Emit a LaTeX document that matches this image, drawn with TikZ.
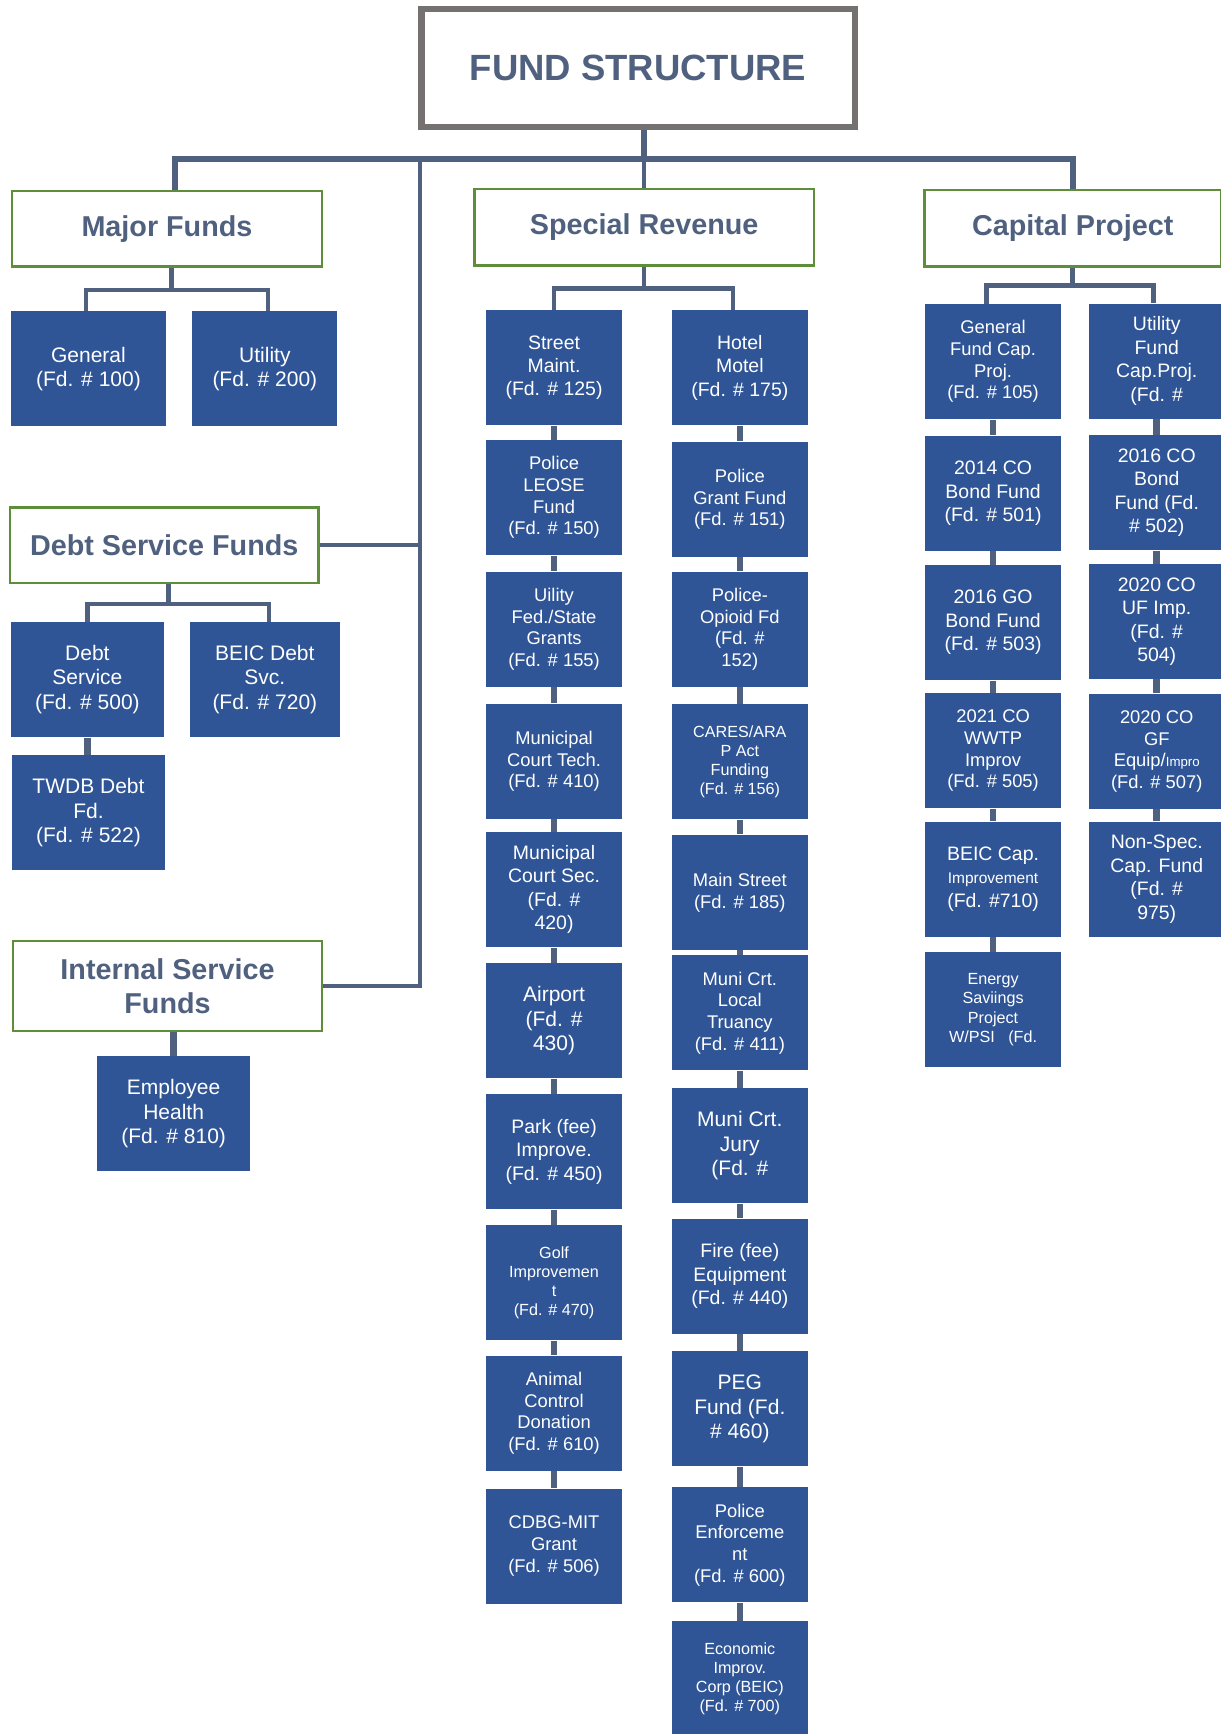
\documentclass[tikz,border=0pt]{standalone}
\usepackage{fontspec}
\setmainfont{Liberation Sans}
\usepackage{xcolor}
\usetikzlibrary{calc}
\definecolor{fundblue}{HTML}{2F5597}
\definecolor{slate}{HTML}{506180}
\definecolor{grpgreen}{HTML}{5E8E3A}
\definecolor{titlegray}{HTML}{767171}
\newcommand{\txtL}{\fontsize{9.5}{11}\selectfont}
\newcommand{\txtM}{\fontsize{8.8}{10.6}\selectfont}
\newcommand{\txtS}{\fontsize{8.3}{9.8}\selectfont}
\newcommand{\txtT}{\fontsize{7.3}{8.7}\selectfont}

\begin{document}
\begin{tikzpicture}[x=0.5pt,y=-0.5pt,
 fundbox/.style={fill=fundblue,text=white,inner sep=0,minimum width=61.5pt,minimum height=52pt,align=center},
 grpbox/.style={draw=grpgreen,line width=1pt,fill=white,text=slate,inner sep=0,align=center,font=\fontsize{13}{15.5}\selectfont\bfseries},
 conn/.style={draw=slate,line width=2pt},
 stack/.style={draw=slate,line width=3pt}]
\useasboundingbox (0,0) rectangle (1104,1568);

\node[draw=titlegray,line width=3pt,minimum width=196pt,minimum height=53.5pt,text=slate,font=\fontsize{16.5}{19}\selectfont\bfseries] (title) at (577,61.5) {FUND STRUCTURE};

\node[grpbox,minimum width=140pt,minimum height=34pt] (major) at (151,207) {Major Funds};
\node[grpbox,minimum width=153.5pt,minimum height=34.5pt] (spec) at (582.5,205.5) {Special Revenue};
\node[grpbox,minimum width=134pt,minimum height=34.5pt] (cap) at (970,206.5) {Capital Project};
\node[grpbox,minimum width=139.5pt,minimum height=34pt] (debt) at (148.5,493) {Debt Service Funds};
\node[grpbox,minimum width=139.5pt,minimum height=40.5pt] (isf) at (151.5,891.5) {Internal Service\\Funds};

\draw[conn,line width=2.6pt] (title.south -| spec.north) -- ++(0,26) coordinate (topbar);
\draw[conn,line width=2.6pt] ([xshift=3.5pt]major.north) |- (topbar) -| (cap.north);
\draw[conn] (topbar) -- (spec.north);
\coordinate (spine) at (380,143);
\draw[conn,line width=1.6pt] (spine) |- (isf.east);
\draw[conn,line width=1.6pt] (debt.east) -- (debt.east -| spine);

% major funds
\node[fundbox,font=\txtL,minimum width=70pt] (gen) at (80,333.5) {General\\(Fd. \# 100)};
\node[fundbox,font=\txtL,minimum width=65.5pt] (util) at (239.5,333.5) {Utility\\(Fd. \# 200)};
\draw[conn] ([xshift=2pt]major.south) -- ++(0,20) coordinate (majbar);
\draw[conn] ([xshift=-1pt]gen.north) |- (majbar) -| ([xshift=1.5pt]util.north);

% debt service
\node[fundbox,font=\txtL,minimum width=69pt] (dsv) at (79,614.5) {Debt\\Service\\(Fd. \# 500)};
\node[fundbox,font=\txtL,minimum width=67.5pt] (beicd) at (239.5,614.5) {BEIC Debt\\Svc.\\(Fd. \# 720)};
\node[fundbox,font=\txtL,minimum width=69pt] (twdb) at (80,735) {TWDB Debt\\Fd.\\(Fd. \# 522)};
\draw[conn] ([xshift=2pt]debt.south) -- ++(0,18) coordinate (debtbar);
\draw[conn] (dsv.north) |- (debtbar) -| ([xshift=2pt]beicd.north);
\draw[stack] (dsv.south) -- (dsv.south |- twdb.north);

% internal service
\node[fundbox,font=\txtL,minimum width=69pt] (emp) at (157,1007) {Employee\\Health\\(Fd. \# 810)};
\draw[stack] (emp.north) -- (emp.north |- isf.south);

% special revenue
\foreach \y/\f/\t [count=\i] in {332.5/\txtM/{Street\\Maint.\\(Fd. \# 125)},
 450/\txtS/{Police\\LEOSE\\Fund\\(Fd. \# 150)},
 569/\txtS/{Uility\\Fed./State\\Grants\\(Fd. \# 155)},
 688.5/\txtS/{Municipal\\Court Tech.\\(Fd. \# 410)},
 804.5/\txtM/{Municipal\\Court Sec.\\(Fd. \#\\420)},
 923/\txtL/{Airport\\(Fd. \#\\430)},
 1041.5/\txtM/{Park (fee)\\Improve.\\(Fd. \# 450)},
 1160/\txtT/{Golf\\Improvemen\\t\\(Fd. \# 470)},
 1278/\txtS/{Animal\\Control\\Donation\\(Fd. \# 610)},
 1398/\txtS/{CDBG-MIT\\Grant\\(Fd. \# 506)}}
 \node[fundbox,font=\f] (sl\i) at (501,\y) {\t};
\foreach \y/\f/\t [count=\i] in {332.5/\txtM/{Hotel\\Motel\\(Fd. \# 175)},
 451.5/\txtS/{Police\\Grant Fund\\(Fd. \# 151)},
 569/\txtS/{Police-\\Opioid Fd\\(Fd. \#\\152)},
 689/\txtT/{CARES/ARA\\P Act\\Funding\\(Fd. \# 156)},
 807/\txtS/{Main Street\\(Fd. \# 185)},
 916/\txtS/{Muni Crt.\\Local\\Truancy\\(Fd. \# 411)},
 1036/\txtL/{Muni Crt.\\Jury\\(Fd. \#},
 1154/\txtM/{Fire (fee)\\Equipment\\(Fd. \# 440)},
 1274/\txtL/{PEG\\Fund (Fd.\\\# 460)},
 1397/\txtS/{Police\\Enforceme\\nt\\(Fd. \# 600)},
 1518/\txtT/{Economic\\Improv.\\Corp (BEIC)\\(Fd. \# 700)}}
 \node[fundbox,font=\f] (sr\i) at (669,\y) {\t};
\draw[conn] (spec.south) -- ++(0,20) coordinate (specbar);
\draw[conn] (sl1.north) |- (specbar) -| ([xshift=-3pt]sr1.north);
\foreach \i [evaluate=\i as \j using int(\i+1)] in {1,...,9}
 \draw[stack] (sl\i.south) -- (sl\i.south |- sl\j.north);
\foreach \i [evaluate=\i as \j using int(\i+1)] in {1,...,10}
 \draw[stack] (sr\i.south) -- (sr\i.south |- sr\j.north);

% capital project
\foreach \y/\f/\t [count=\i] in {327/\txtS/{General\\Fund Cap.\\Proj.\\(Fd. \# 105)},
 446/\txtM/{2014 CO\\Bond Fund\\(Fd. \# 501)},
 563/\txtM/{2016 GO\\Bond Fund\\(Fd. \# 503)},
 679/\txtS/{2021 CO\\WWTP\\Improv\\(Fd. \# 505)},
 795/\txtM/{BEIC Cap.\\{\fontsize{7}{8}\selectfont Improvement}\\(Fd. \#710)},
 913/\txtT/{Energy\\Saviings\\Project\\W/PSI\ \ \ (Fd.}}
 \node[fundbox,font=\f] (cl\i) at (898,\y) {\t};
\foreach \y/\f/\t [count=\i] in {326.5/\txtM/{Utility\\Fund\\Cap.Proj.\\(Fd. \#},
 445.5/\txtM/{2016 CO\\Bond\\Fund (Fd.\\\# 502)},
 562/\txtM/{2020 CO\\UF Imp.\\(Fd. \#\\504)},
 679.5/\txtS/{2020 CO\\GF\\Equip/{\fontsize{6}{7}\selectfont Impro}\\(Fd. \# 507)},
 795/\txtM/{Non-Spec.\\Cap. Fund\\(Fd. \#\\975)}}
 \node[fundbox,font=\f] (cr\i) at (1046,\y) {\t};
\draw[conn] (cap.south) -- ++(0,16) coordinate (capbar);
\draw[conn] ([xshift=-3pt]cl1.north) |- (capbar) -| ([xshift=-1.5pt]cr1.north);
\foreach \i [evaluate=\i as \j using int(\i+1)] in {1,...,5}
 \draw[stack] (cl\i.south) -- (cl\i.south |- cl\j.north);
\foreach \i [evaluate=\i as \j using int(\i+1)] in {1,...,4}
 \draw[stack] (cr\i.south) -- (cr\i.south |- cr\j.north);
\end{tikzpicture}
\end{document}
